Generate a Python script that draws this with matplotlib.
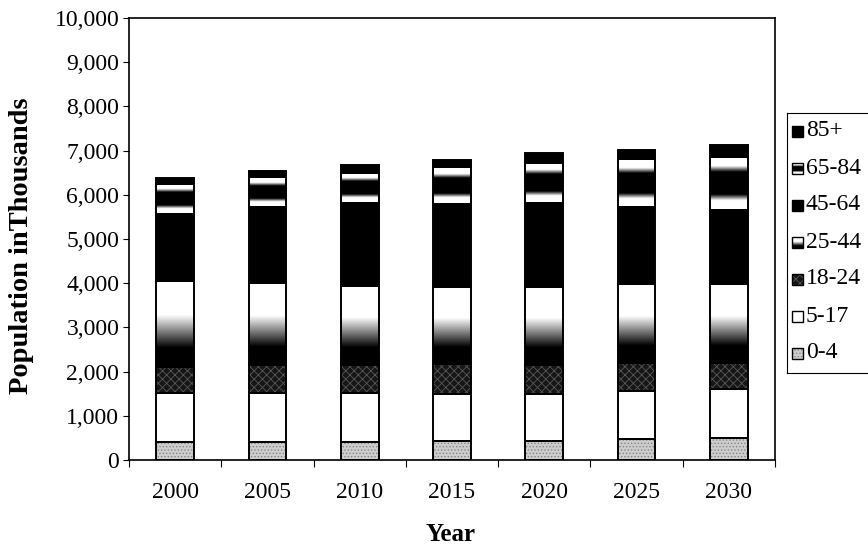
import numpy as np
import matplotlib.pyplot as plt
from matplotlib.patches import Rectangle
from matplotlib.ticker import FuncFormatter

plt.rcParams['font.family'] = ['Liberation Serif', 'DejaVu Serif']
plt.rcParams['hatch.linewidth'] = 0.6

years = ['2000', '2005', '2010', '2015', '2020', '2025', '2030']
groups = ['0-4', '5-17', '18-24', '25-44', '45-64', '65-84', '85+']

# population by age group, in thousands
age_0_4 = [400, 410, 400, 430, 420, 470, 505]
age_5_17 = [1110, 1113, 1108, 1063, 1073, 1098, 1095]
age_18_24 = [600, 627, 642, 677, 657, 632, 600]
age_25_44 = [1950, 1860, 1795, 1735, 1770, 1780, 1782]
age_45_64 = [1500, 1720, 1875, 1885, 1890, 1750, 1674]
age_65_84 = [685, 665, 680, 830, 915, 1070, 1204]
age_85p = [125, 145, 180, 170, 225, 220, 260]

series = [age_0_4, age_5_17, age_18_24, age_25_44, age_45_64, age_65_84, age_85p]

# vertical fade profiles (0 = bottom of segment, 1 = top)
t = np.linspace(0, 1, 300)
fade_25_44 = np.clip((t - 0.22) / 0.38, 0, 1)
fade_65_84 = np.clip((np.abs(2 * t - 1) - 0.42) / 0.22, 0, 1)

styles = {
    '0-4': dict(kind='hatch', fc='#cdcdcd', hc='#858585', hatch='.....'),
    '5-17': dict(kind='solid', fc='white'),
    '18-24': dict(kind='hatch', fc='#161616', hc='#575757', hatch='xxxx'),
    '25-44': dict(kind='fade', prof=fade_25_44),
    '45-64': dict(kind='solid', fc='black'),
    '65-84': dict(kind='fade', prof=fade_65_84),
    '85+': dict(kind='solid', fc='black'),
}


def draw_block(a, x0, y0, w, h, st, lw):
    if st['kind'] == 'fade':
        a.imshow(st['prof'][:, None], cmap='gray', vmin=0, vmax=1, origin='lower',
                 extent=(x0, x0 + w, y0, y0 + h), aspect='auto',
                 interpolation='bilinear', zorder=2)
    elif st['kind'] == 'hatch':
        a.add_patch(Rectangle((x0, y0), w, h, facecolor=st['fc'], edgecolor=st['hc'],
                              hatch=st['hatch'], linewidth=0, zorder=2))
    else:
        a.add_patch(Rectangle((x0, y0), w, h, facecolor=st['fc'], linewidth=0, zorder=2))
    a.add_patch(Rectangle((x0, y0), w, h, fill=False, edgecolor='black',
                          linewidth=lw, zorder=3))


fig = plt.figure(figsize=(8.68, 5.46), dpi=100)
ax = fig.add_axes([129 / 868, 86 / 546, 646 / 868, 442 / 546])

x = np.arange(len(years))
width = 0.41
bottom = np.zeros(len(years))
for g, vals in zip(groups, series):
    for i in range(len(years)):
        draw_block(ax, x[i] - width / 2, bottom[i], width, vals[i], styles[g], 1.4)
    bottom += np.array(vals)

ax.set_xlim(-0.5, len(years) - 0.5)
ax.set_ylim(0, 10000)
ax.set_yticks(np.arange(0, 10001, 1000))
ax.yaxis.set_major_formatter(FuncFormatter(lambda v, p: f'{int(v):,}'))
ax.set_xticks(x)
ax.set_xticklabels(years)
ax.set_xticks(np.arange(-0.5, len(years)), minor=True)
ax.tick_params(axis='x', which='major', length=0, pad=16, labelsize=17)
ax.tick_params(axis='x', which='minor', length=5, direction='out', width=0.8)
ax.tick_params(axis='y', length=4, direction='out', width=0.8, pad=3, labelsize=17)
for s in ax.spines.values():
    s.set_linewidth(1.2)

ax.set_ylabel('Population inThousands', fontsize=20.5, fontweight='bold')
ax.yaxis.set_label_coords(-0.147, 0.485)
ax.set_xlabel('Year', fontsize=18, fontweight='bold')
ax.xaxis.set_label_coords(0.497, -0.143)

# legend box, drawn by hand so the fills match the bars
lw_px = 0.13 * 868
lh_px = 260
lax = fig.add_axes([787 / 868, 173 / 546, 0.13, lh_px / 546])
for k, g in enumerate(groups[::-1]):
    yc = 242 - 37 * k
    draw_block(lax, 5, yc - 6, 11, 11, styles[g], 1.0)
    lax.text(19, yc, g, fontsize=17, va='center', ha='left')
lax.set_xlim(0, lw_px)
lax.set_ylim(0, lh_px)
lax.set_xticks([])
lax.set_yticks([])
for s in lax.spines.values():
    s.set_linewidth(0.8)

fig.savefig('out.png', dpi=100)
